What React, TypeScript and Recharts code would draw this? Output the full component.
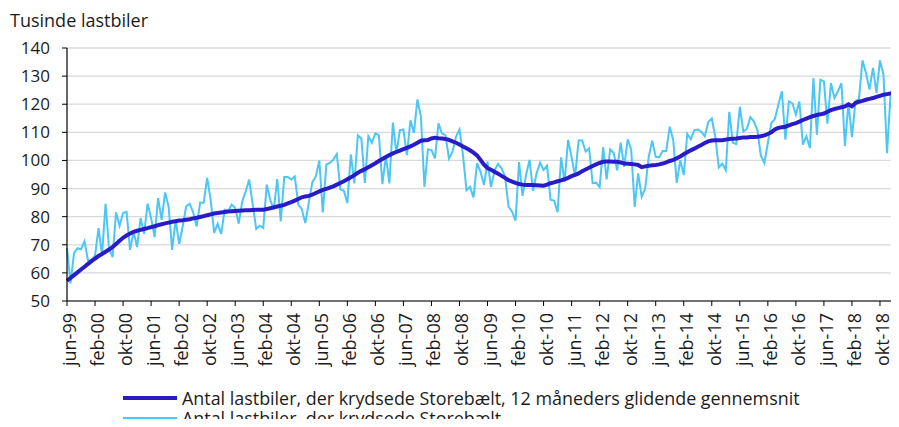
import React from "react";
import { CartesianGrid, Legend, Line, LineChart, XAxis, YAxis } from "recharts";

const FONT = "'Open Sans', 'Liberation Sans', Arial, sans-serif";
const DARK = "#2a1bc8";
const LIGHT = "#4cc6f4";
const TEXT = "#1c1c1c";

// danske månedsforkortelser til aksen, første måned er jun-99
const MONTHS = ["jan", "feb", "mar", "apr", "maj", "jun", "jul", "aug", "sep", "okt", "nov", "dec"];
const START_YEAR = 1999;
const START_MONTH = 5;

const yTicks = [50, 60, 70, 80, 90, 100, 110, 120, 130, 140];

const seriesNames = [
  "Antal lastbiler, der krydsede Storebælt, 12 måneders glidende gennemsnit",
  "Antal lastbiler, der krydsede Storebælt",
];

// 12 måneders glidende gennemsnit, tusinde lastbiler
const avg12 = [
  57.2, 58.2, 59.2, 60.2, 61.2, 62.2, 63.2, 64.2, 65.1, 66.0,
  66.7, 67.5, 68.3, 69.2, 70.3, 71.4, 72.5, 73.3, 74.0, 74.6,
  75.0, 75.3, 75.6, 75.9, 76.3, 76.6, 77.0, 77.3, 77.6, 77.9,
  78.2, 78.4, 78.6, 78.7, 78.9, 79.1, 79.4, 79.6, 79.9, 80.2,
  80.5, 80.8, 81.1, 81.3, 81.5, 81.7, 81.8, 81.9, 82.0, 82.1,
  82.2, 82.3, 82.3, 82.4, 82.5, 82.5, 82.5, 82.7, 83.0, 83.3,
  83.6, 83.9, 84.2, 84.7, 85.2, 85.7, 86.3, 86.9, 87.2, 87.4,
  87.8, 88.4, 89.0, 89.5, 89.9, 90.3, 90.8, 91.4, 92.0, 92.6,
  93.3, 94.0, 94.8, 95.6, 96.3, 96.9, 97.6, 98.3, 99.0, 99.8,
  100.5, 101.2, 101.9, 102.5, 103.0, 103.5, 104.0, 104.5, 105.0, 105.6,
  106.3, 107.0, 107.2, 107.3, 107.8, 108.1, 107.9, 107.8, 107.6, 107.3,
  106.8, 106.3, 105.7, 105.0, 104.3, 103.6, 102.8, 101.8, 100.2, 98.5,
  97.3, 96.7, 96.0, 95.3, 94.5, 93.8, 93.0, 92.5, 92.0, 91.6,
  91.4, 91.3, 91.3, 91.3, 91.2, 91.1, 91.0, 91.4, 91.9, 92.2,
  92.6, 92.9, 93.3, 93.8, 94.4, 94.9, 95.4, 96.2, 96.8, 97.4,
  98.0, 98.6, 99.1, 99.5, 99.6, 99.6, 99.5, 99.5, 99.3, 98.9,
  98.8, 98.7, 98.6, 98.4, 97.6, 97.9, 98.1, 98.3, 98.4, 98.6,
  98.9, 99.3, 99.8, 100.2, 100.8, 101.4, 102.2, 102.9, 103.6, 104.2,
  104.9, 105.5, 106.2, 106.8, 107.1, 107.2, 107.2, 107.2, 107.4, 107.6,
  107.7, 107.8, 108.0, 108.2, 108.2, 108.3, 108.3, 108.4, 108.6, 108.9,
  109.4, 110.0, 111.0, 111.6, 111.8, 112.0, 112.5, 112.9, 113.3, 113.8,
  114.4, 114.9, 115.4, 115.8, 116.2, 116.4, 116.7, 117.3, 117.9, 118.3,
  118.6, 118.9, 119.2, 120.0, 119.3, 120.4, 120.9, 121.2, 121.6, 121.9,
  122.2, 122.6, 123.0, 123.4, 123.6, 123.8, 124.3, 125.2,
];

// månedlige tal, tusinde lastbiler
const monthly = [
  68.8, 56.3, 67.0, 68.8, 68.4, 71.2, 64.4, 64.6, 66.1, 75.9,
  66.4, 84.6, 68.8, 65.6, 81.5, 76.7, 81.3, 81.7, 68.2, 74.7,
  69.2, 79.5, 73.9, 84.6, 79.5, 72.7, 86.6, 78.9, 88.6, 83.6,
  68.2, 78.9, 70.3, 76.5, 83.6, 84.6, 81.5, 76.5, 85.1, 84.9,
  93.8, 86.0, 74.2, 77.5, 73.9, 82.5, 81.9, 84.3, 83.1, 77.5,
  85.4, 89.0, 93.2, 84.3, 75.6, 76.8, 76.0, 91.4, 86.0, 82.5,
  93.4, 78.3, 94.1, 94.1, 93.2, 94.3, 84.3, 82.7, 77.7, 84.9,
  92.2, 94.3, 100.0, 81.5, 98.5, 99.1, 100.3, 102.3, 89.7, 89.2,
  84.9, 102.2, 91.8, 108.9, 107.8, 92.0, 108.6, 106.3, 109.6, 109.0,
  91.6, 101.5, 91.8, 113.5, 102.5, 110.8, 111.0, 101.9, 114.3, 109.8,
  121.7, 115.5, 90.6, 103.9, 103.7, 100.7, 113.2, 109.6, 109.0, 100.7,
  103.1, 108.4, 111.0, 101.9, 89.4, 90.6, 86.8, 99.0, 96.0, 91.3,
  99.6, 90.5, 96.4, 98.8, 97.2, 94.3, 83.6, 81.8, 78.6, 99.4,
  87.4, 94.9, 100.2, 89.2, 95.4, 99.2, 96.6, 98.1, 86.0, 85.7,
  81.6, 101.1, 92.5, 107.3, 101.1, 94.3, 107.1, 107.1, 103.2, 104.3,
  91.9, 92.1, 90.5, 104.7, 93.3, 103.9, 102.7, 96.5, 106.3, 97.7,
  107.5, 103.9, 83.5, 95.4, 87.1, 90.0, 101.3, 107.0, 101.3, 101.1,
  103.4, 103.4, 112.0, 107.2, 92.0, 100.1, 94.8, 109.4, 107.5, 110.8,
  111.0, 110.2, 108.6, 113.7, 114.9, 108.4, 97.5, 98.9, 96.5, 117.3,
  106.3, 105.8, 119.1, 110.3, 111.2, 115.4, 113.9, 110.9, 101.7, 99.1,
  106.2, 113.3, 114.7, 119.8, 124.6, 107.4, 121.0, 120.4, 116.3, 121.0,
  105.6, 108.6, 104.4, 129.3, 109.2, 128.7, 128.1, 113.1, 127.5, 122.2,
  124.6, 127.5, 105.2, 120.4, 108.3, 121.0, 121.9, 135.6, 131.1, 125.2,
  132.9, 124.0, 135.6, 130.5, 102.6, 123.0, 112.4, 125.2,
];

const monthLabel = (i: number) => {
  const m = START_MONTH + i;
  const yr = (START_YEAR + Math.floor(m / 12)) % 100;
  return `${MONTHS[m % 12]}-${String(yr).padStart(2, "0")}`;
};

const data = monthly.map((v, i) => ({
  label: monthLabel(i),
  gns: avg12[i],
  antal: v,
}));

function MonthTick({ x, y, payload }: any) {
  return (
    <text
      transform={`translate(${x + 2},${y + 5}) rotate(-90)`}
      textAnchor="end"
      dominantBaseline="central"
      fontSize={18}
      fontFamily={FONT}
      fill={TEXT}
    >
      {payload.value}
    </text>
  );
}

function LegendBox() {
  const items = [
    { name: seriesNames[0], color: DARK, width: 4 },
    { name: seriesNames[1], color: LIGHT, width: 2 },
  ];
  return (
    <div style={{ fontFamily: FONT, fontSize: 17.9, color: TEXT }}>
      {items.map((it) => (
        <div key={it.name} style={{ display: "flex", alignItems: "center", height: 20 }}>
          <svg width={54} height={20} style={{ display: "block", flex: "none" }}>
            <line x1={0} x2={54} y1={10} y2={10} stroke={it.color} strokeWidth={it.width} />
          </svg>
          <span
            style={{
              display: "inline-block",
              height: 18,
              marginLeft: 5,
              whiteSpace: "nowrap",
              lineHeight: "18px",
            }}
          >
            {it.name}
          </span>
        </div>
      ))}
    </div>
  );
}

export default function App() {
  return (
    <div style={{ position: "relative", width: 899, height: 427, margin: -8, background: "#fff" }}>
      <div
        style={{
          position: "absolute",
          left: 10,
          top: 10,
          fontFamily: FONT,
          fontSize: 18,
          lineHeight: "20px",
          color: TEXT,
          zIndex: 1,
        }}
      >
        Tusinde lastbiler
      </div>
      <LineChart width={899} height={427} data={data} margin={{ top: 48, right: 1.5, left: 0, bottom: 0 }}>
        <CartesianGrid vertical={false} stroke="#d9d9d9" strokeWidth={1.3} />
        <XAxis
          dataKey="label"
          interval={7}
          height={126}
          tickSize={5}
          tickMargin={2}
          tick={<MonthTick />}
          axisLine={{ stroke: "#000", strokeWidth: 1.2 }}
          tickLine={{ stroke: "#000", strokeWidth: 1 }}
        />
        <YAxis
          domain={[50, 140]}
          ticks={yTicks}
          width={67}
          tickSize={5}
          tickMargin={12}
          tick={{ fontSize: 17, fontFamily: FONT, fill: TEXT }}
          axisLine={{ stroke: "#000", strokeWidth: 1.2 }}
          tickLine={{ stroke: "#000", strokeWidth: 1 }}
        />
        <Legend
          layout="horizontal"
          verticalAlign="middle"
          align="center"
          content={<LegendBox />}
          wrapperStyle={{ top: 388, left: 123, width: 740, height: 39 }}
        />
        <Line
          type="linear"
          dataKey="antal"
          name={seriesNames[1]}
          stroke={LIGHT}
          strokeWidth={2}
          dot={false}
          activeDot={false}
          isAnimationActive={false}
        />
        <Line
          type="linear"
          dataKey="gns"
          name={seriesNames[0]}
          stroke={DARK}
          strokeWidth={4}
          dot={false}
          activeDot={false}
          isAnimationActive={false}
        />
      </LineChart>
    </div>
  );
}
